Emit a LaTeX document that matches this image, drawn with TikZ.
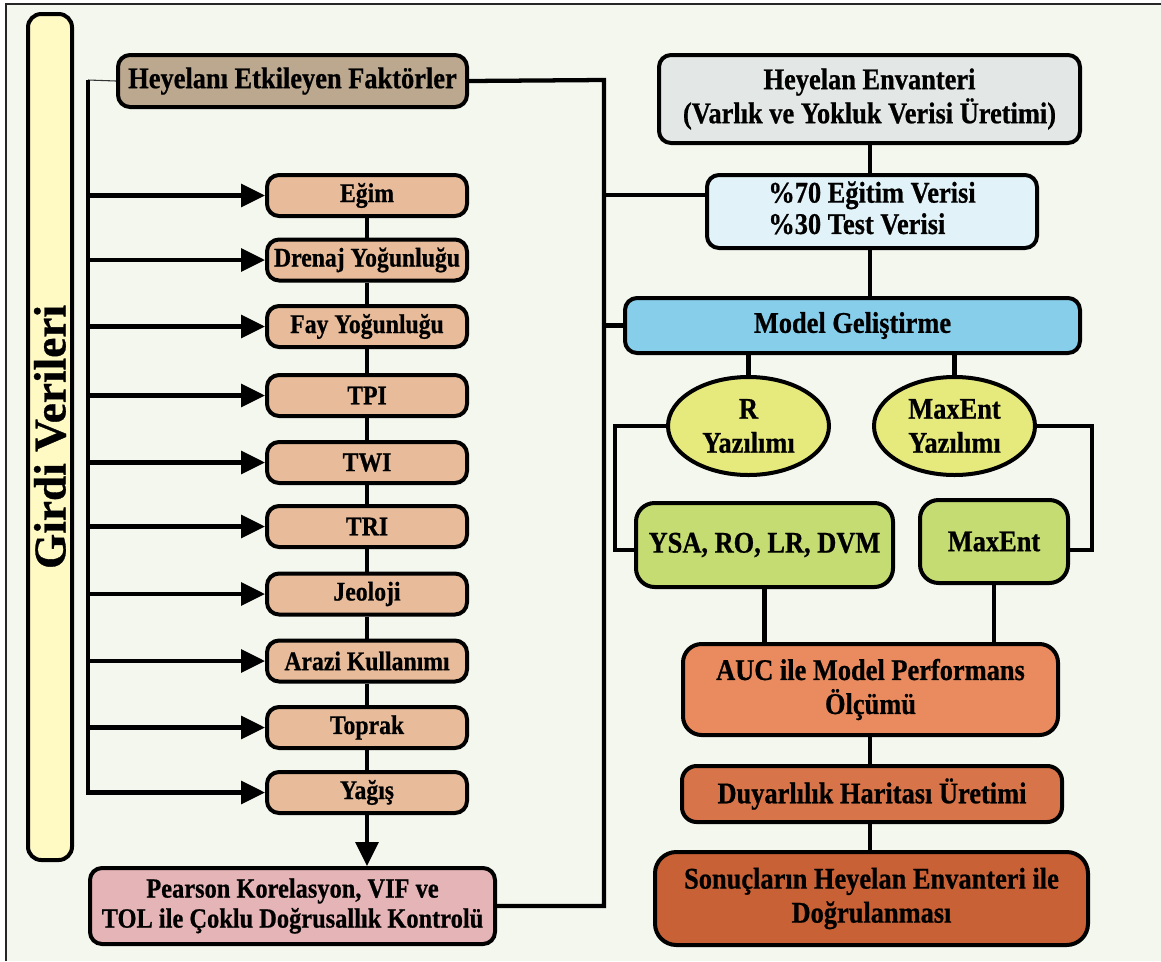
\documentclass[tikz,border=0pt]{standalone}
\usepackage{fontspec}
\setmainfont{Liberation Serif}[FakeStretch=0.88,BoldFeatures={FakeBold=0.7}]
\newfontfamily\girdifont{Liberation Serif}[BoldFeatures={FakeBold=0.7}]
\usetikzlibrary{arrows.meta,shapes.geometric}
\definecolor{bgc}{HTML}{F4F7EE}
\definecolor{girdic}{HTML}{FFF9C4}
\definecolor{hefc}{HTML}{BBA88F}
\definecolor{facc}{HTML}{E8BC9B}
\definecolor{pearc}{HTML}{E5B4B6}
\definecolor{envc}{HTML}{E3E8E6}
\definecolor{egitc}{HTML}{E1F3F8}
\definecolor{modc}{HTML}{87CEEB}
\definecolor{ellc}{HTML}{E6E97C}
\definecolor{grnc}{HTML}{C5DC72}
\definecolor{aucc}{HTML}{E98B5F}
\definecolor{duyc}{HTML}{D8744A}
\definecolor{sonc}{HTML}{C96136}
\tikzset{
  sz/.style 2 args={minimum width=#1*0.75pt,minimum height=#2*0.75pt},
  bx/.style={draw=black,line width=3pt,rounded corners=9pt,inner sep=0pt,align=center,
     font=\bfseries\fontsize{22.5}{25.5}\selectfont},
  fac/.style={bx,fill=facc,sz={200}{41},font=\bfseries\fontsize{20.2}{22}\selectfont},
  ell/.style={draw=black,line width=3pt,ellipse,inner sep=0pt,align=center,fill=ellc,
     font=\bfseries\fontsize{22.5}{25.5}\selectfont},
  ln/.style={line width=3.2pt,draw=black},
  arr/.style={ln,-{Triangle[length=18pt,width=17pt]}},
}
\begin{document}
\begin{tikzpicture}[x=0.75pt,y=-0.75pt]
\useasboundingbox (0,0) rectangle (1161,961);
\fill[white] (0,0) rectangle (1161,961);
\fill[bgc] (6,4) rectangle (1161,961);
\draw[line width=1.2pt,black!85] (6,961) -- (6,4) -- (1161,4);
% left column
\node[bx,fill=girdic,rotate=90,sz={846}{44},rounded corners=10pt,
  font=\girdifont\bfseries\fontsize{34}{40}\selectfont] (girdi) at (50,437) {Girdi Verileri};
\node[bx,fill=hefc,sz={349}{52}] (hef) at (292.5,81) {Heyelanı Etkileyen Faktörler};
\node[fac] (f1) at (367,195.5) {Eğim};
\node[fac] (f2) at (367,260) {Drenaj Yoğunluğu};
\node[fac] (f3) at (367,326.5) {Fay Yoğunluğu};
\node[fac] (f4) at (367,395.5) {TPI};
\node[fac] (f5) at (367,462.5) {TWI};
\node[fac] (f6) at (367,526.5) {TRI};
\node[fac] (f7) at (367,594) {Jeoloji};
\node[fac] (f8) at (367,661) {Arazi Kullanımı};
\node[fac] (f9) at (367,727.5) {Toprak};
\node[fac] (f10) at (367,792.5) {Yağış};
\node[bx,fill=pearc,sz={405}{76},font=\bfseries\fontsize{20.8}{22.5}\selectfont] (pear) at (292.5,906)
  {Pearson Korelasyon, VIF ve\\TOL ile Çoklu Doğrusallık Kontrolü};
% right column
\node[bx,fill=envc,sz={421}{88}] (env) at (869.5,99) {Heyelan Envanteri\\(Varlık ve Yokluk Verisi Üretimi)};
\node[bx,fill=egitc,sz={330}{73}] (egit) at (872,211.5) {\begin{tabular}{@{}l@{}}\%70 Eğitim Verisi\\[-2pt]\%30 Test Verisi\end{tabular}};
\node[bx,fill=modc,sz={455}{55}] (model) at (852.5,325.5) {Model Geliştirme};
\node[ell,sz={161}{98}] (rell) at (748.5,426) {R\\Yazılımı};
\node[ell,sz={161}{98}] (mell) at (954.5,426) {MaxEnt\\Yazılımı};
\node[bx,fill=grnc,sz={257}{84},rounded corners=14pt] (ysa) at (764.5,545) {YSA, RO, LR, DVM};
\node[bx,fill=grnc,sz={148}{83},rounded corners=14pt] (mxe) at (994,541.5) {MaxEnt};
\node[bx,fill=aucc,sz={375}{91},rounded corners=14pt] (auc) at (870.5,689.5) {AUC ile Model Performans\\Ölçümü};
\node[bx,fill=duyc,sz={380}{56},rounded corners=11pt] (duy) at (872,794) {Duyarlılık Haritası Üretimi};
\node[bx,fill=sonc,sz={433}{93},rounded corners=16pt] (son) at (871.5,898.5) {Sonuçların Heyelan Envanteri ile\\Doğrulanması};
% coordinates
\coordinate (sp) at (88,80);
\coordinate (spb) at (88,795);
\coordinate (rs) at (604,80);
\coordinate (rsb) at (604,906);
\coordinate (eg) at (604,195);
\coordinate (cx) at (870,0);
\coordinate (lq) at (615,550);
\coordinate (rq) at (1092,550);
% left connectors
\draw[line width=0.8pt,black!80] (sp) -- (hef.west);
\draw[ln] (sp) -- (spb);
\foreach \f in {f1,f2,f3,f4,f5,f6,f7,f8,f9,f10}{
  \draw[arr] (\f.west -| sp) -- (\f.west);
}
\foreach \a/\b in {f1/f2,f2/f3,f3/f4,f4/f5,f5/f6,f6/f7,f7/f8,f8/f9,f9/f10}{
  \draw[ln] (\a.south) -- (\b.north);
}
\draw[arr] (f10.south) -- (f10.south |- pear.north);
\draw[ln] (hef.east) -- (rs) -- (rsb) -- (pear.east);
\draw[ln] (eg) -- (eg -| egit.west);
\draw[ln] (model.west -| rs) -- (model.west);
% right connectors
\draw[ln] (env.south -| cx) -- (egit.north -| cx);
\draw[ln] (egit.south -| cx) -- (model.north -| cx);
\draw[ln] (rell.north |- model.south) -- (rell.north);
\draw[ln] (mell.north |- model.south) -- (mell.north);
\draw[ln] (rell.west) -- (rell.west -| lq) -- (lq) -- (lq -| ysa.west);
\draw[ln] (mell.east) -- (mell.east -| rq) -- (rq) -- (rq -| mxe.east);
\draw[ln] (ysa.south) -- (ysa.south |- auc.north);
\draw[ln] (mxe.south) -- (mxe.south |- auc.north);
\draw[ln] (auc.south -| cx) -- (duy.north -| cx);
\draw[ln] (duy.south -| cx) -- (son.north -| cx);
\end{tikzpicture}
\end{document}
